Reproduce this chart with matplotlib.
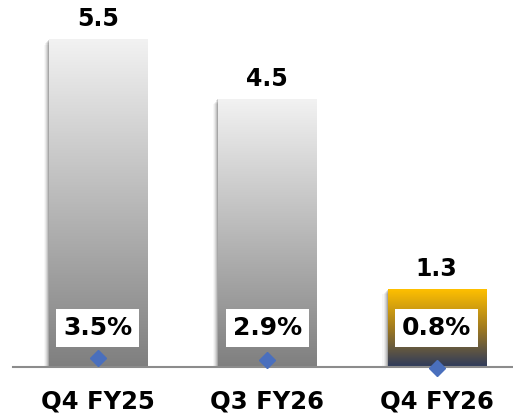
import matplotlib.pyplot as plt
import numpy as np
from matplotlib.colors import LinearSegmentedColormap
from matplotlib.patches import Rectangle

# data
categories = ['Q4 FY25', 'Q3 FY26', 'Q4 FY26']
values = [5.5, 4.5, 1.3]
pct_values = [3.5, 2.9, 0.8]
pct_labels = ['3.5%', '2.9%', '0.8%']

gray_cmap = LinearSegmentedColormap.from_list('g', ['#f2f2f2', '#7f7f7f'])
gold_cmap = LinearSegmentedColormap.from_list('y', ['#ffc000', '#a07a20', '#2e3a5c'])
bar_cmaps = [gray_cmap, gray_cmap, gold_cmap]

fig = plt.figure(figsize=(5.13, 4.18), dpi=100)
ax = fig.add_axes([13 / 513, 51 / 418, 500 / 513, 357 / 418])

width = 0.58
x = np.arange(len(categories))
bars = ax.bar(x, values, width=width, color='none', zorder=3)

grad = np.linspace(0, 1, 256).reshape(-1, 1)
for b, cmap in zip(bars, bar_cmaps):
    x0, w, h = b.get_x(), b.get_width(), b.get_height()
    # soft shadow on the left side
    for i, a in enumerate([0.14, 0.10, 0.07, 0.05, 0.03]):
        off = 0.006 * (i + 1)
        ax.add_patch(Rectangle((x0 - off, 0), w, h - 0.02 * i, color='black',
                               alpha=a, lw=0, zorder=2))
    ax.imshow(grad, cmap=cmap, extent=[x0, x0 + w, 0, h], aspect='auto',
              zorder=3, interpolation='bicubic')

ax.set_xlim(-0.5, 2.45)
ax.set_ylim(0, 6.0)

for xi, v in zip(x, values):
    ax.annotate(f'{v:.1f}', (xi, v), xytext=(0, 6), textcoords='offset points',
                ha='center', va='bottom', fontsize=17, fontweight='bold',
                color='black', zorder=6)

for xi, lab in zip(x, pct_labels):
    ax.annotate(lab, (xi, 0), xytext=(0, 28), textcoords='offset points',
                ha='center', va='center', fontsize=18, fontweight='bold',
                color='black', zorder=6,
                bbox=dict(boxstyle='square,pad=0.28', fc='white', ec='none'))

ax2 = ax.twinx()
ax2.set_ylim(1.08, 97.5)
ax2.plot(x, pct_values, linestyle='none', marker='D', ms=8, color='#4a6fbd',
         clip_on=False, zorder=7)
ax2.axis('off')

ax.set_xticks(x)
ax.set_xticklabels(categories, fontsize=17.5, fontweight='bold')
ax.tick_params(axis='x', length=0, pad=16)
ax.set_yticks([])
for s in ['top', 'right', 'left']:
    ax.spines[s].set_visible(False)
ax.spines['bottom'].set_color('#8c8c8c')
ax.spines['bottom'].set_linewidth(1.5)
ax.spines['bottom'].set_zorder(5)

fig.savefig('out.png', dpi=100)
